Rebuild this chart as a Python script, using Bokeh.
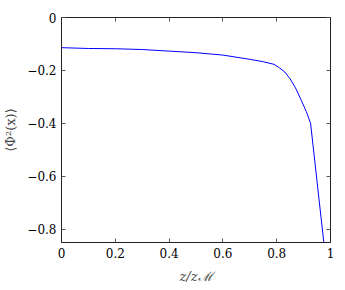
from bokeh.plotting import figure
from bokeh.models import Range1d, FixedTicker, LinearAxis
from bokeh.embed import file_html
from bokeh.resources import INLINE

z_ratio = [0.0, 0.1, 0.2, 0.3, 0.4, 0.5, 0.6, 0.7, 0.75, 0.79, 0.81, 0.83,
           0.85, 0.87, 0.89, 0.91, 0.926, 0.95, 0.975]
phi2 = [-0.114, -0.117, -0.118, -0.121, -0.127, -0.133, -0.142, -0.158, -0.167,
        -0.177, -0.19, -0.206, -0.232, -0.266, -0.31, -0.355, -0.40, -0.62, -0.848]

x_ticks = [0, 0.2, 0.4, 0.6, 0.8, 1]
x_tick_labels = ["0", "0.2", "0.4", "0.6", "0.8", "1"]
y_ticks = [0, -0.2, -0.4, -0.6, -0.8]
y_tick_labels = ["0", "\u22120.2", "\u22120.4", "\u22120.6", "\u22120.8"]

FONT = "DejaVu Serif"

p = figure(width=336, height=286, output_backend="svg", toolbar_location=None,
           x_range=Range1d(0, 1), y_range=Range1d(-0.85, 0),
           min_border_left=56, min_border_right=6, min_border_top=17,
           min_border_bottom=44)
p.grid.visible = False
p.outline_line_color = "#222222"
p.outline_line_width = 1

p.line(z_ratio, phi2, line_color="#0000ff", line_width=1)

def style(ax, ticks, labels, show):
    ax.ticker = FixedTicker(ticks=ticks)
    ax.major_tick_in = 4
    ax.major_tick_out = 0
    ax.minor_tick_in = 0
    ax.minor_tick_out = 0
    ax.axis_line_color = "#222222"
    ax.major_tick_line_color = "#555555"
    ax.major_label_text_font = FONT
    if show:
        ax.major_label_overrides = {t: l for t, l in zip(ticks, labels)}
        ax.major_label_text_color = "black"
        ax.major_label_text_font_size = "12px"
        ax.major_label_standoff = 5
    else:
        ax.major_label_overrides = {t: "" for t in ticks}
        ax.major_label_text_color = None
        ax.major_label_standoff = 0

bottom = p.below[0]
left = p.left[0]
style(bottom, x_ticks, x_tick_labels, True)
style(left, y_ticks, y_tick_labels, True)

top = LinearAxis()
right = LinearAxis()
style(top, x_ticks, x_tick_labels, False)
style(right, y_ticks, y_tick_labels, False)
p.add_layout(top, "above")
p.add_layout(right, "right")

left.axis_label = "\u27e8\u03a6\u00b2(x)\u27e9"
left.axis_label_text_font = FONT
left.axis_label_text_font_size = "13px"
left.axis_label_text_font_style = "normal"
left.axis_label_standoff = 6

bottom.axis_label = "z/z\u2133"
bottom.axis_label_text_font = FONT
bottom.axis_label_text_font_size = "13px"
bottom.axis_label_text_font_style = "italic"
bottom.axis_label_standoff = 8

open("out.html", "w").write(file_html(p, INLINE))
